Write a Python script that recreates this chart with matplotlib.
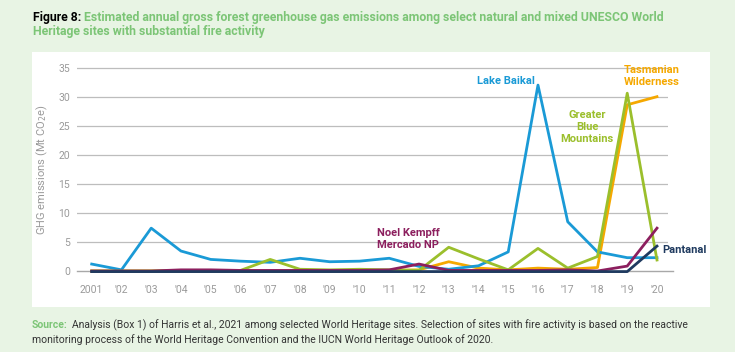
import matplotlib
matplotlib.use('Agg')
import matplotlib.pyplot as plt
from matplotlib.patches import Rectangle
from matplotlib import font_manager

names = {f.name for f in font_manager.fontManager.ttflist}
narrow = 'Liberation Sans Narrow' if 'Liberation Sans Narrow' in names else 'Roboto'
plt.rcParams['font.family'] = [narrow, 'DejaVu Sans']

years = list(range(2001, 2021))
year_labels = ['2001'] + ["'%02d" % (y % 100) for y in years[1:]]

lake_baikal = [1.2, 0.2, 7.4, 3.45, 2.0, 1.7, 1.5, 2.2, 1.6, 1.7,
               2.2, 0.8, 0.3, 0.9, 3.3, 32.1, 8.5, 3.3, 2.3, 2.3]
blue_mountains = [0.0, 0.0, 0.0, 0.1, 0.1, 0.1, 2.0, 0.3, 0.2, 0.3,
                  0.2, 0.1, 4.1, 2.1, 0.2, 3.9, 0.5, 2.5, 30.7, 1.9]
tasmanian = [0.0, 0.0, 0.0, 0.0, 0.0, 0.0, 0.0, 0.0, 0.0, 0.1,
             0.1, 0.2, 1.6, 0.5, 0.2, 0.5, 0.3, 0.6, 28.7, 30.1]
noel_kempff = [0.0, 0.0, 0.0, 0.2, 0.2, 0.1, 0.1, 0.1, 0.1, 0.1,
               0.2, 1.2, 0.1, 0.1, 0.1, 0.1, 0.2, 0.0, 0.85, 7.4]
pantanal = [-0.1, -0.1, -0.1, -0.1, -0.1, -0.1, -0.1, -0.1, -0.1, -0.1,
            -0.1, -0.1, -0.1, -0.1, -0.1, -0.1, -0.1, -0.1, -0.1, 4.3]

c_blue = '#1a9ad6'
c_green = '#9bbf2c'
c_orange = '#f5a800'
c_purple = '#8c1f5e'
c_navy = '#1f3a5f'
c_title = '#7cc576'
bg = '#e8f4e4'

W, H = 735, 352
fig = plt.figure(figsize=(W / 100, H / 100), dpi=100, facecolor=bg)

def fx(px):
    return px / W

def fy(py):
    return 1 - py / H

# white panel behind the chart
fig.patches.append(Rectangle((fx(32), fy(307)), fx(710) - fx(32), fy(52) - fy(307),
                             transform=fig.transFigure, facecolor='white',
                             edgecolor='none', zorder=-5))

ax = fig.add_axes([fx(77), fy(276.8), fx(668) - fx(77), fy(62.5) - fy(276.8)])
ax.set_facecolor('none')
ax.set_xlim(2000.506, 2020.37)
ax.set_ylim(-1, 36)
for s in ax.spines.values():
    s.set_visible(False)
for v in range(5, 40, 5):
    ax.axhline(v, color='#bdbdbd', lw=0.9, zorder=1)
ax.plot([2000.506, 2020.55], [0, 0], color='#a8a8a8', lw=1.0, zorder=1, clip_on=False)

ax.set_yticks(range(0, 40, 5))
ax.set_xticks(years)
ax.set_xticklabels(year_labels)
ax.tick_params(length=0, labelsize=7.5, labelcolor='#9a9a9a')
ax.tick_params(axis='x', pad=6)
ax.tick_params(axis='y', pad=5)
ax.set_ylabel('GHG emissions (Mt CO$_2$e)', fontsize=8, color='#9a9a9a', labelpad=6)

lw = 2.0
ax.plot(years, tasmanian, color=c_orange, lw=lw, zorder=3)
ax.plot(years, lake_baikal, color=c_blue, lw=lw, zorder=4)
ax.plot(years, blue_mountains, color=c_green, lw=lw, zorder=5)
ax.plot(years, noel_kempff, color=c_purple, lw=lw, zorder=6)
ax.plot(years, pantanal, color=c_navy, lw=lw, zorder=7)

kw = dict(fontsize=8, fontweight='bold', transform=fig.transFigure, linespacing=1.2)
fig.text(fx(506), fy(81), 'Lake Baikal', color=c_blue, ha='center', va='center', **kw)
fig.text(fx(652), fy(76), 'Tasmanian\nWilderness', color=c_orange, ha='center', va='center', **kw)
fig.text(fx(587), fy(127), 'Greater\nBlue\nMountains', color=c_green, ha='center', va='center', **kw)
fig.text(fx(408), fy(239), 'Noel Kempff\nMercado NP', color=c_purple, ha='center', va='center', **kw)
fig.text(fx(662), fy(250), 'Pantanal', color=c_navy, ha='left', va='center', **kw)

# title
renderer = fig.canvas.get_renderer()
t1 = fig.text(fx(33), fy(17), 'Figure 8:', color='black', fontsize=8.8, fontweight='bold',
              ha='left', va='center')
bb = t1.get_window_extent(renderer)
fig.text(bb.x1 / W + fx(3), fy(17),
         'Estimated annual gross forest greenhouse gas emissions among select natural and mixed UNESCO World',
         color=c_title, fontsize=8.8, fontweight='bold', ha='left', va='center')
fig.text(fx(33), fy(32), 'Heritage sites with substantial fire activity',
         color=c_title, fontsize=8.8, fontweight='bold', ha='left', va='center')

# source
s1 = fig.text(fx(32), fy(325), 'Source:', color=c_title, fontsize=7.5, fontweight='bold',
              ha='left', va='center')
bb = s1.get_window_extent(renderer)
fig.text(bb.x1 / W + fx(4), fy(325),
         'Analysis (Box 1) of Harris et al., 2021 among selected World Heritage sites. Selection of sites with fire activity is based on the reactive',
         color='#333333', fontsize=7.5, ha='left', va='center')
fig.text(fx(32), fy(340),
         'monitoring process of the World Heritage Convention and the IUCN World Heritage Outlook of 2020.',
         color='#333333', fontsize=7.5, ha='left', va='center')

fig.savefig('out.png', dpi=100, facecolor=bg)
